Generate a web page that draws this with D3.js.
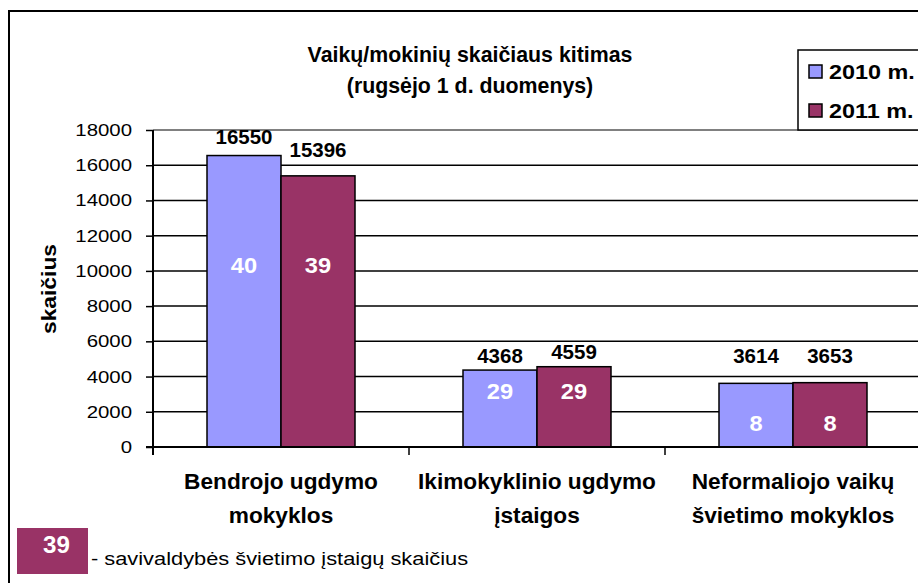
<!DOCTYPE html>
<html><head><meta charset="utf-8">
<script src="https://cdn.jsdelivr.net/npm/d3@7"></script>
<style>body{margin:0;background:#fff}svg{display:block}text{font-family:"Liberation Sans",Arial,sans-serif}</style>
</head><body>
<script>
const categories = [["Bendrojo ugdymo","mokyklos"],["Ikimokyklinio ugdymo","įstaigos"],["Neformaliojo vaikų","švietimo mokyklos"]];
const series = ["2010 m.","2011 m."];
const values2010 = [16550, 4368, 3614];
const values2011 = [15396, 4559, 3653];
const counts2010 = [40, 29, 8];
const counts2011 = [39, 29, 8];
const yTicks = [0,2000,4000,6000,8000,10000,12000,14000,16000,18000];
const colors = ["#9999FF","#993366"];

(function(){
const W=918,H=583;
const svg=d3.select("body").append("svg").attr("width",W).attr("height",H);
svg.append("rect").attr("x",9).attr("y",11).attr("width",W).attr("height",H).attr("fill","#fff").attr("stroke","#000").attr("stroke-width",2);

function txt(parent,x,y,s,size,opts={}){
  const sx=opts.sx||1;
  return parent.append("text").attr("transform",`translate(${x},${y}) ${opts.rot?"rotate("+opts.rot+")":""} scale(${sx},1)`)
    .attr("text-anchor",opts.anchor||"start").attr("font-size",size)
    .attr("font-weight",opts.bold?"bold":"normal").attr("fill",opts.fill||"#000").text(s);
}

const pLeft=153, pTop=130, pBottom=447, catW=256;
const y=d3.scaleLinear().domain([0,18000]).range([pBottom,pTop]);
const x0=d3.scaleBand().domain(d3.range(3)).range([pLeft,pLeft+3*catW]);
const x1=d3.scaleBand().domain(d3.range(2)).range([54,202]);

const g=svg.append("g");
g.selectAll("line.grid").data(yTicks.filter(t=>t>0)).join("line")
 .attr("x1",pLeft).attr("x2",W).attr("y1",d=>y(d)).attr("y2",d=>y(d))
 .attr("stroke",d=>d===18000?"#808080":"#000").attr("stroke-width",d=>d===18000?2:1.5);

const data=[values2010,values2011];
const counts=[counts2010,counts2011];
for(let s=0;s<2;s++){
  g.selectAll("rect.s"+s).data(data[s]).join("rect")
   .attr("x",(d,i)=>x0(i)+x1(s)).attr("width",x1.bandwidth())
   .attr("y",d=>y(d)).attr("height",d=>pBottom-y(d))
   .attr("fill",colors[s]).attr("stroke","#000").attr("stroke-width",1.5);
}
const valOffset=[[12,19],[7,8],[20,20]];
const countLevel=[10300,3100,1300];
for(let s=0;s<2;s++){
  data[s].forEach((d,i)=>{
    const cx=x0(i)+x1(s)+x1.bandwidth()/2;
    txt(g,cx,y(d)-valOffset[i][s],d,20.5,{anchor:"middle",bold:true});
    txt(g,cx,y(countLevel[i])+7,counts[s][i],21.5,{anchor:"middle",bold:true,fill:"#fff",sx:1.1});
  });
}

const ya=svg.append("g").attr("transform",`translate(${pLeft},0)`)
 .call(d3.axisLeft(y).tickValues(yTicks).tickSize(7).tickFormat(d3.format("d")));
ya.select(".domain").remove();
ya.selectAll("line").attr("stroke","#000").attr("stroke-width",1.5);
ya.selectAll("text").attr("x",0).attr("transform","translate(-21,0) scale(1.2,1)")
  .attr("font-size",17).attr("font-family","Liberation Sans, Arial, sans-serif").attr("fill","#000");
svg.append("line").attr("x1",pLeft).attr("x2",pLeft).attr("y1",pTop).attr("y2",pBottom+8).attr("stroke","#000").attr("stroke-width",2);
svg.append("line").attr("x1",pLeft-7).attr("x2",W).attr("y1",pBottom).attr("y2",pBottom).attr("stroke","#000").attr("stroke-width",2);
svg.selectAll("line.ct").data(d3.range(1,3)).join("line")
 .attr("x1",d=>pLeft+d*catW).attr("x2",d=>pLeft+d*catW).attr("y1",pBottom).attr("y2",pBottom+8)
 .attr("stroke","#000").attr("stroke-width",1.5);

categories.forEach((c,i)=>{
  c.forEach((line,j)=>{
    txt(svg,x0(i)+catW/2,489+j*34,line,22,{anchor:"middle",bold:true,sx:1.03});
  });
});

txt(svg,56,289,"skaičius",20,{anchor:"middle",bold:true,rot:-90,sx:1.14});

txt(svg,470,62,"Vaikų/mokinių skaičiaus kitimas",22,{anchor:"middle",bold:true,sx:0.97});
txt(svg,470,93,"(rugsėjo 1 d. duomenys)",22,{anchor:"middle",bold:true,sx:0.97});

svg.append("rect").attr("x",798).attr("y",50).attr("width",140).attr("height",80).attr("fill","#fff").attr("stroke","#000").attr("stroke-width",1.5);
series.forEach((s,i)=>{
  svg.append("rect").attr("x",809).attr("y",65+i*39).attr("width",13).attr("height",13).attr("fill",colors[i]).attr("stroke","#000").attr("stroke-width",1.5);
  txt(svg,829,79+i*39,s,20,{bold:true,sx:1.17});
});

svg.append("rect").attr("x",17).attr("y",528).attr("width",71).attr("height",46).attr("fill",colors[1]);
txt(svg,56.5,553,counts2011[0],23,{anchor:"middle",bold:true,fill:"#fff",sx:1.05});
txt(svg,91,565,"- savivaldybės švietimo įstaigų skaičius",18.5,{sx:1.18});
})();
</script>
</body></html>
